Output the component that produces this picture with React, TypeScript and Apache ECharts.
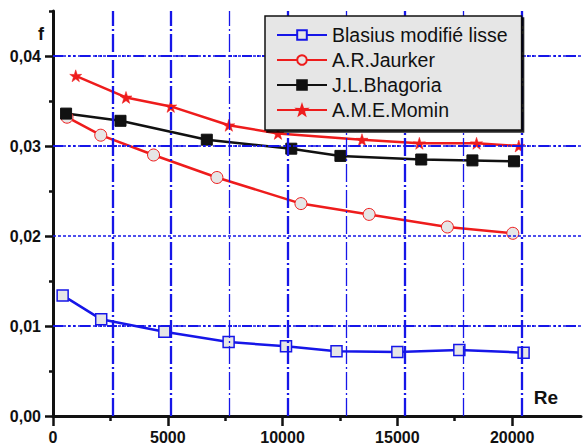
import React, { useEffect, useRef } from 'react';
import * as echarts from 'echarts';

// ---- data ----
const seriesNames = ['Blasius modifié lisse', 'A.R.Jaurker', 'J.L.Bhagoria', 'A.M.E.Momin'];

const blasiusRe = [420, 2100, 4850, 7650, 10150, 12350, 15000, 17700, 20500];
const blasiusF = [0.0134, 0.01074, 0.00937, 0.00822, 0.00774, 0.00719, 0.00711, 0.00733, 0.00704];

const jaurkerRe = [610, 2080, 4380, 7140, 10800, 13770, 17180, 20030];
const jaurkerF = [0.0332, 0.0312, 0.029, 0.0265, 0.0236, 0.0224, 0.021, 0.0203];

const bhagoriaRe = [570, 2940, 6700, 10380, 12520, 16040, 18270, 20080];
const bhagoriaF = [0.0336, 0.0328, 0.0307, 0.0297, 0.0289, 0.0285, 0.0284, 0.0283];

const mominRe = [990, 3180, 5130, 7660, 9800, 13460, 15960, 18450, 20290];
const mominF = [0.0378, 0.0354, 0.0344, 0.0323, 0.0314, 0.0307, 0.0303, 0.0303, 0.03];

// ---- axis ticks / grid lines ----
const xMajorTicks = [0, 5000, 10000, 15000, 20000];
const xMinorTicks = [2500, 7500, 12500, 17500];
const yMajorTicks = [0, 0.01, 0.02, 0.03, 0.04];
const yMinorTicks = [0.005, 0.015, 0.025, 0.035, 0.045];
const vGridThick = [2590, 5135, 10225, 15315, 20405];
const vGridThin = [7680, 12770, 17860];
const hGridMajor = [0.01, 0.02, 0.03, 0.04];
const hGridMinor = [0.005, 0.015, 0.025, 0.035];

const BLUE = '#1616e8';
const RED = '#ee1c1c';
const BLACK = '#111111';
const FILL = '#e6e6e6';
const FONT = 'Arial, "Liberation Sans", sans-serif';
const STAR =
  'path://M50,0 L61.8,35.1 L97.6,34.5 L69,56.2 L79.4,90.5 L50,70 L20.6,90.5 L31,56.2 L2.4,34.5 L38.2,35.1 Z';

const zip = (xs: number[], ys: number[]) => xs.map((x, i) => [x, ys[i]]);

export default function App() {
  const ref = useRef<HTMLDivElement>(null);

  useEffect(() => {
    if (!ref.current) return;
    const chart = echarts.init(ref.current, undefined, { renderer: 'svg' });

    const gridLines: any[] = [
      ...hGridMinor.map((v) => ({ yAxis: v, lineStyle: { color: BLUE, width: 2, type: [10, 5, 2, 3, 2, 5] } })),
      ...hGridMajor.map((v) => ({ yAxis: v, lineStyle: { color: BLUE, width: 1.5, type: [3, 2] } })),
      ...vGridThin.map((v) => ({ xAxis: v, lineStyle: { color: BLUE, width: 1.3, type: [18, 3, 2, 3] } })),
      ...vGridThick.map((v) => ({ xAxis: v, lineStyle: { color: BLUE, width: 2.3, type: [18, 3, 2, 3] } })),
    ];

    const tickStyle = { color: BLACK, width: 2.5 };
    const labelStyle = { color: BLACK, fontWeight: 'bold', fontSize: 16, fontFamily: FONT };

    chart.setOption({
      animation: false,
      backgroundColor: '#ffffff',
      grid: { left: 53, right: 3, top: 11, bottom: 32, containLabel: false },
      xAxis: [
        {
          type: 'value', min: 0, max: 23000, position: 'bottom',
          axisLine: { show: true, onZero: false, lineStyle: { color: BLACK, width: 3 } },
          axisTick: { show: true, customValues: xMajorTicks, length: 10, lineStyle: tickStyle },
          axisLabel: { customValues: xMajorTicks, margin: 13, ...labelStyle, formatter: (v: number) => String(v) },
          splitLine: { show: false },
        },
        {
          type: 'value', min: 0, max: 23000, position: 'bottom',
          axisLine: { show: false },
          axisTick: { show: true, customValues: xMinorTicks, length: 5, lineStyle: tickStyle },
          axisLabel: { show: false },
          splitLine: { show: false },
        },
      ],
      yAxis: [
        {
          type: 'value', min: 0, max: 0.045, position: 'left',
          axisLine: { show: true, onZero: false, lineStyle: { color: BLACK, width: 3 } },
          axisTick: { show: true, customValues: yMajorTicks, length: 8, lineStyle: tickStyle },
          axisLabel: {
            customValues: yMajorTicks, margin: 12, ...labelStyle,
            formatter: (v: number) => v.toFixed(2).replace('.', ','),
          },
          splitLine: { show: false },
        },
        {
          type: 'value', min: 0, max: 0.045, position: 'left',
          axisLine: { show: false },
          axisTick: { show: true, customValues: yMinorTicks, length: 4, lineStyle: tickStyle },
          axisLabel: { show: false },
          splitLine: { show: false },
        },
      ],
      legend: {
        data: seriesNames,
        orient: 'vertical',
        left: 265,
        top: 16,
        z: 50,
        itemWidth: 50,
        itemHeight: 12,
        itemGap: 5,
        padding: [9, 14, 10, 11],
        backgroundColor: FILL,
        borderColor: BLACK,
        borderWidth: 1.5,
        shadowColor: 'rgba(0,0,0,0.85)',
        shadowOffsetX: 2,
        shadowOffsetY: 2,
        shadowBlur: 0,
        selectedMode: false,
        textStyle: { fontFamily: FONT, fontSize: 19.5, color: BLACK, lineHeight: 20 },
      },
      graphic: [
        {
          type: 'text', x: 41, y: 34,
          style: { text: 'f', font: `bold 18px ${FONT}`, fill: BLACK, align: 'center', verticalAlign: 'middle' },
        },
        {
          type: 'text', x: 546, y: 397,
          style: { text: 'Re', font: `bold 19px ${FONT}`, fill: BLACK, align: 'center', verticalAlign: 'middle' },
        },
      ],
      series: [
        {
          type: 'line', name: '_grid', data: [[0, 0]], showSymbol: false, z: 1, silent: true,
          lineStyle: { opacity: 0 },
          markLine: {
            silent: true, symbol: ['none', 'none'], label: { show: false }, animation: false,
            data: gridLines,
          },
        },
        {
          name: seriesNames[0], type: 'line', data: zip(blasiusRe, blasiusF), z: 3,
          symbol: 'rect', symbolSize: 11, showSymbol: true,
          lineStyle: { color: BLUE, width: 2.5 },
          itemStyle: { color: FILL, borderColor: BLUE, borderWidth: 1.5 },
        },
        {
          name: seriesNames[1], type: 'line', data: zip(jaurkerRe, jaurkerF), z: 3,
          symbol: 'circle', symbolSize: 12, showSymbol: true,
          lineStyle: { color: RED, width: 2.5 },
          itemStyle: { color: FILL, borderColor: RED, borderWidth: 1 },
        },
        {
          name: seriesNames[2], type: 'line', data: zip(bhagoriaRe, bhagoriaF), z: 3,
          symbol: 'rect', symbolSize: 11, showSymbol: true,
          lineStyle: { color: BLACK, width: 2.5 },
          itemStyle: { color: BLACK, borderColor: BLACK, borderWidth: 1 },
        },
        {
          name: seriesNames[3], type: 'line', data: zip(mominRe, mominF), z: 3,
          symbol: STAR, symbolSize: 12, showSymbol: true,
          lineStyle: { color: RED, width: 2.5 },
          itemStyle: { color: RED, borderColor: RED, borderWidth: 0.5 },
        },
      ],
    });

    return () => chart.dispose();
  }, []);

  return (
    <div
      ref={ref}
      style={{ position: 'absolute', left: 0, top: 0, width: 584, height: 448, background: '#fff' }}
    />
  );
}
